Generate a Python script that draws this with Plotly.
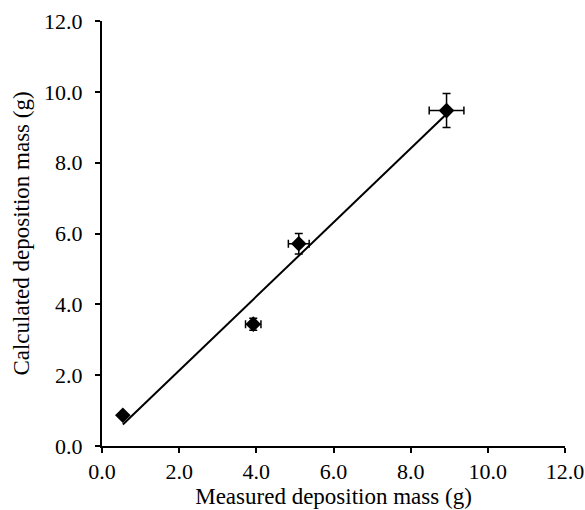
import numpy as np
import plotly.graph_objects as go

measured = [0.54, 3.92, 5.10, 8.93]
calculated = [0.87, 3.44, 5.71, 9.47]
measured_err = [0.0, 0.20, 0.27, 0.45]
calculated_err = [0.0, 0.17, 0.29, 0.48]
tick_vals = [0, 2, 4, 6, 8, 10, 12]
tick_text = ["0.0", "2.0", "4.0", "6.0", "8.0", "10.0", "12.0"]

slope, intercept = np.polyfit(measured, calculated, 1)
fit_x = [min(measured), max(measured)]
fit_y = [slope * v + intercept for v in fit_x]

fig = go.Figure()
fig.add_trace(go.Scatter(
    x=fit_x, y=fit_y, mode="lines",
    line=dict(color="black", width=2), showlegend=False, hoverinfo="skip"))
fig.add_trace(go.Scatter(
    x=measured, y=calculated, mode="markers",
    marker=dict(symbol="diamond", size=12, color="black"),
    error_x=dict(type="data", array=measured_err, color="black", thickness=1.5, width=4),
    error_y=dict(type="data", array=calculated_err, color="black", thickness=1.5, width=4),
    showlegend=False))

font = dict(family="Liberation Serif, Times New Roman, serif", size=22, color="black")
title_font = dict(family="Liberation Serif, Times New Roman, serif", size=23, color="black")
axis_common = dict(
    range=[0, 12], tickvals=tick_vals, ticktext=tick_text, automargin=False,
    showgrid=False, zeroline=False, showline=True, linecolor="black", linewidth=2,
    ticks="outside", ticklen=5, tickwidth=1.5, tickcolor="black",
    tickfont=font, title_font=title_font)

fig.update_layout(
    width=585, height=510,
    margin=dict(l=102, r=20, t=21, b=64, autoexpand=False),
    paper_bgcolor="white", plot_bgcolor="white",
    font=font,
    xaxis=dict(**axis_common, title=dict(text="Measured deposition mass (g)", standoff=0)),
    yaxis=dict(**axis_common, title=dict(text="Calculated deposition mass (g)", standoff=8),
               ticklabelstandoff=8),
)
fig.write_html("out.html")
